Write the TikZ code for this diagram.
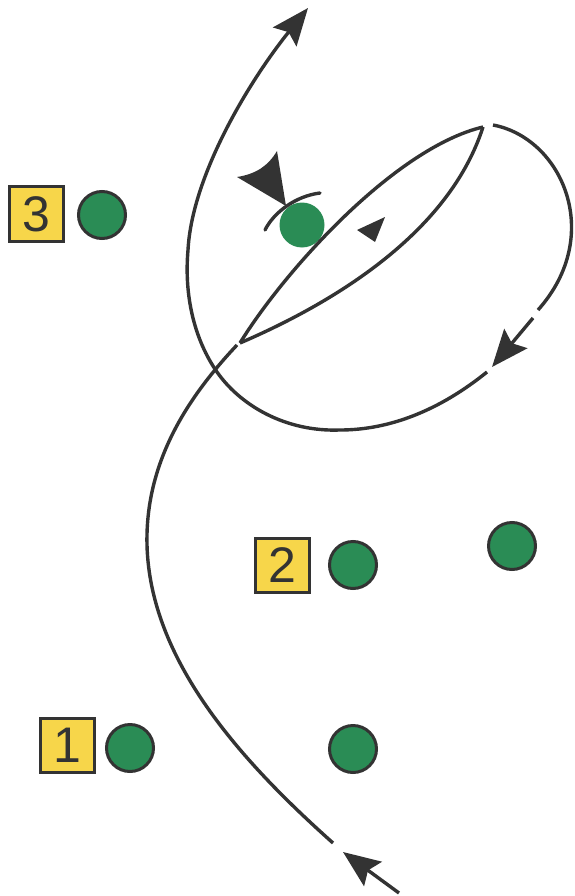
\documentclass[tikz,border=0pt]{standalone}
\usepackage{fontspec}
\setmainfont{Liberation Sans}
\usetikzlibrary{arrows.meta}
\definecolor{ink}{HTML}{333333}
\definecolor{pgreen}{HTML}{2A8C55}
\definecolor{byellow}{HTML}{F7D64A}
\tikzset{
  numbox/.style={draw=ink, line width=3pt, fill=byellow, minimum size=54pt, inner sep=0pt, font=\fontsize{50}{50}\selectfont, text=ink},
  player/.style={circle, draw=ink, line width=3pt, fill=pgreen, minimum size=47pt, inner sep=0pt},
  run/.style={draw=ink, line width=3.4pt},
  tip/.style={-{Stealth[length=37pt, width=30pt, inset=6pt]}}
}
\begin{document}
\begin{tikzpicture}[x=1pt,y=-1pt]
\useasboundingbox (0,0) rectangle (574,896);
% numbered boxes and players
\node[numbox] (b3) at (36,214) {3};
\node[player] (p3) at (102,215) {};
\node[numbox] (b2) at (282,565) {2};
\node[player] (p2) at (353,565) {};
\node[player] (pr) at (512,546) {};
\node[numbox] (b1) at (67,745) {1};
\node[player] (p1) at (130,748) {};
\node[player] (pb) at (353,749) {};
\node[circle, fill=pgreen, minimum size=45pt, inner sep=0pt] (pt) at (302,225) {};
% coordinates
\coordinate (A) at (240,343);
\coordinate (B) at (483,127);
\coordinate (C) at (493,125);
\coordinate (D) at (538,310);
% bottom arrow
\coordinate (s0) at (399,893);
\coordinate (s1) at (343,852);
\draw[run, tip] (s0) -- (s1);
% main run from bottom into the lens
\coordinate (m0) at (333,843);
\coordinate (m1) at (147,545);
\coordinate (m2) at (237,345);
\draw[run] (m0) .. controls (240,760) and (150,660) .. (m1)
                .. controls (145,460) and (190,395) .. (m2);
% lens
\draw[run] (A) .. controls (285,270) and (395,148) .. (B);
\draw[run] (A) .. controls (340,300) and (450,230) .. (B);
% outer loop
\draw[run] (C) .. controls (562,138) and (605,235) .. (D);
\coordinate (e0) at (533,318);
\coordinate (e1) at (492,367);
\draw[run, tip] (e0) -- (e1);
\coordinate (o0) at (487,372);
\coordinate (o1) at (340,430);
\coordinate (o2) at (217,372);
\coordinate (o3) at (188,250);
\coordinate (o4) at (308,8);
\draw[run, tip] (o0) .. controls (440,410) and (390,430) .. (o1)
                     .. controls (285,432) and (240,405) .. (o2)
                     .. controls (194,339) and (184,295) .. (o3)
                     .. controls (192,175) and (250,80) .. (o4);
% cap over player and wedge
\draw[run, line cap=round] (265,230) .. controls (274,212) and (296,196) .. (320,193);
\fill[ink] (286,206) -- (237,177) .. controls (256,174) and (268,166) .. (277,151) -- cycle;
\fill[ink] (357,230) -- (385,217) -- (375,242) -- cycle;
\end{tikzpicture}
\end{document}
